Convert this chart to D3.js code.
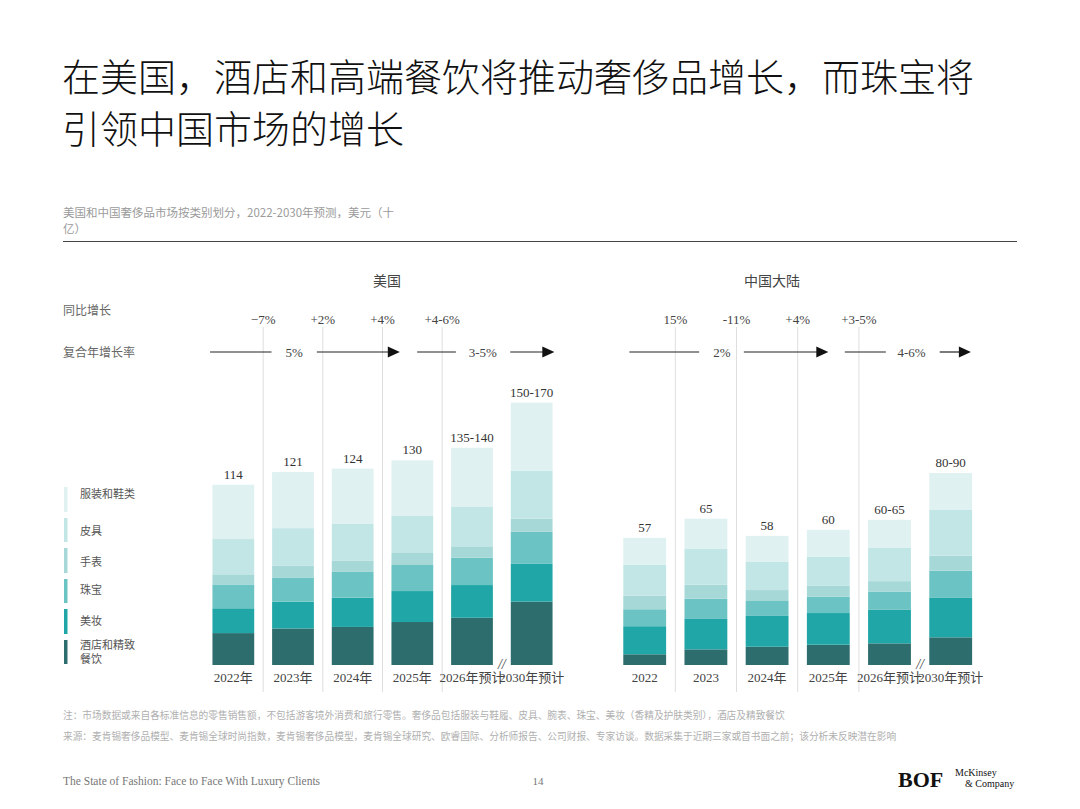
<!DOCTYPE html>
<html>
<head>
<meta charset="utf-8">
<script src="https://cdn.jsdelivr.net/npm/d3@7"></script>
<style>
  body { margin: 0; background: #fff; }
  svg text { font-family: "Noto Sans CJK SC", "Noto Sans", sans-serif; }
  .num { font-family: "Liberation Serif", "DejaVu Serif", serif; }
</style>
</head>
<body>
<svg id="chart" width="1080" height="809"></svg>
<script>
// categories, top of stack first (legend order)
var categories = ['服装和鞋类', '皮具', '手表', '珠宝', '美妆', '酒店和精致餐饮'];
var keys = ['apparel', 'leather', 'watches', 'jewelry', 'beauty', 'hotel'];
var colors = ['#dff1f1', '#c2e5e5', '#a6d8d8', '#6cc3c3', '#20a6a6', '#2e6d6d'];

// USA, $ billions
var usYears   = ['2022年', '2023年', '2024年', '2025年', '2026年预计', '2030年预计'];
var usTotals  = ['114', '121', '124', '130', '135-140', '150-170'];
var usHotel   = [20.2, 23.1, 24.1, 27.2, 29.9, 40.1];
var usBeauty  = [15.7, 17.0, 18.5, 19.6, 20.7, 23.9];
var usJewelry = [15.1, 15.3, 16.3, 16.5, 17.3, 20.3];
var usWatches = [6.4, 7.6, 7.0, 7.6, 7.2, 8.4];
var usLeather = [22.3, 23.6, 23.4, 23.4, 24.9, 30.4];
var usApparel = [34.4, 35.5, 35.0, 35.2, 37.5, 43.0];
var usYoy  = ['−7%', '+2%', '+4%', '+4-6%'];
var usCagr = ['5%', '3-5%'];

// China mainland
var cnYears   = ['2022', '2023', '2024年', '2025年', '2026年预计', '2030年预计'];
var cnTotals  = ['57', '65', '58', '60', '60-65', '80-90'];
var cnHotel   = [4.8, 7.0, 8.2, 9.1, 9.7, 12.4];
var cnBeauty  = [12.6, 13.9, 13.8, 14.2, 15.2, 17.9];
var cnJewelry = [7.6, 8.8, 6.7, 7.3, 7.9, 12.0];
var cnWatches = [6.1, 6.3, 4.9, 4.9, 4.8, 6.7];
var cnLeather = [13.9, 16.0, 12.8, 13.1, 15.1, 20.5];
var cnApparel = [12.0, 13.6, 11.5, 12.0, 12.4, 16.6];
var cnYoy  = ['15%', '-11%', '+4%', '+3-5%'];
var cnCagr = ['2%', '4-6%'];

var svg = d3.select('#chart');
var baseY = 665;

function rows(years, series) {
  return years.map(function(y, i) {
    var r = {year: y};
    keys.forEach(function(k, j) { r[k] = series[j][i]; });
    return r;
  });
}

// title
svg.selectAll('.title').data(['在美国，酒店和高端餐饮将推动奢侈品增长，而珠宝将', '引领中国市场的增长'])
  .enter().append('text')
  .attr('x', 62).attr('y', function(d, i) { return 91 + i * 52; })
  .attr('font-size', 38).attr('font-weight', 300).attr('fill', '#111')
  .text(function(d) { return d; });

svg.selectAll('.sub').data(['美国和中国奢侈品市场按类别划分，2022-2030年预测，美元（十', '亿）'])
  .enter().append('text')
  .attr('x', 63).attr('y', function(d, i) { return 217 + i * 16; })
  .attr('font-size', 11.5).attr('fill', '#9a9a9a')
  .text(function(d) { return d; });

svg.append('line').attr('x1', 63).attr('x2', 1017).attr('y1', 241.5).attr('y2', 241.5)
  .attr('stroke', '#444').attr('stroke-width', 1);

svg.append('text').attr('x', 63).attr('y', 315).attr('font-size', 12).attr('fill', '#666').text('同比增长');
svg.append('text').attr('x', 63).attr('y', 357).attr('font-size', 12).attr('fill', '#666').text('复合年增长率');

// legend
var legendY = [[487, 512], [518, 542], [548, 573], [579, 603], [609, 634], [640, 664]];
var leg = svg.append('g');
leg.selectAll('rect').data(categories).enter().append('rect')
  .attr('x', 64).attr('width', 3.5)
  .attr('y', function(d, i) { return legendY[i][0]; })
  .attr('height', function(d, i) { return legendY[i][1] - legendY[i][0]; })
  .attr('fill', function(d, i) { return colors[i]; });
var legLabels = [['服装和鞋类'], ['皮具'], ['手表'], ['珠宝'], ['美妆'], ['酒店和精致', '餐饮']];
var legTextY = [498, 535, 566, 594, 625, 649];
leg.selectAll('text.l').data(legLabels).enter().append('text')
  .attr('x', 80).attr('y', function(d, i) { return legTextY[i]; })
  .attr('font-size', 11).attr('fill', '#555')
  .each(function(d) {
    var t = d3.select(this);
    d.forEach(function(s, j) {
      t.append('tspan').attr('x', 80).attr('dy', j ? 14 : 0).text(s);
    });
  });

function drawPanel(cfg) {
  var data = rows(cfg.years, cfg.series);
  var x = d3.scaleBand().domain(cfg.years).range(cfg.range).paddingInner(0.3).paddingOuter(0.15);
  var y = d3.scaleLinear().domain([0, 100]).range([baseY, baseY - cfg.pxPer100]);
  var step = x.step();
  var u = function(v) { return cfg.range[0] + v * step; };
  var g = svg.append('g');

  // separators between years
  var seps = cfg.years.slice(1, 5).map(function(yr, i) {
    return (x(cfg.years[i]) + x(yr)) / 2 + x.bandwidth() / 2;
  });
  g.selectAll('line.sep').data(seps).enter().append('line')
    .attr('x1', function(d) { return d; }).attr('x2', function(d) { return d; })
    .attr('y1', 327).attr('y2', 692)
    .attr('stroke', '#dedede').attr('stroke-width', 1);

  g.selectAll('text.yoy').data(cfg.yoy).enter().append('text')
    .attr('class', 'num')
    .attr('x', function(d, i) { return seps[i]; }).attr('y', 324)
    .attr('text-anchor', 'middle').attr('font-size', 13).attr('fill', '#444')
    .text(function(d) { return d; });

  // CAGR arrows
  var a = cfg.arrows;
  var segs = [[a[0], a[1], false], [a[3], a[4], true], [a[5], a[6], false], [a[8], a[9], true]];
  g.selectAll('line.cagr').data(segs).enter().append('line')
    .attr('x1', function(d) { return u(d[0]); })
    .attr('x2', function(d) { return u(d[1]) - (d[2] ? 10 : 0); })
    .attr('y1', 352).attr('y2', 352)
    .attr('stroke', '#222').attr('stroke-width', 1.2);
  g.selectAll('path.head').data(segs.filter(function(d) { return d[2]; })).enter().append('path')
    .attr('d', function(d) {
      var e = u(d[1]);
      return 'M' + e + ',352 L' + (e - 12) + ',346.5 L' + (e - 12) + ',357.5 Z';
    })
    .attr('fill', '#111');
  g.selectAll('text.cagr').data(cfg.cagr).enter().append('text')
    .attr('class', 'num')
    .attr('x', function(d, i) { return u(i ? a[7] : a[2]); }).attr('y', 357)
    .attr('text-anchor', 'middle').attr('font-size', 13).attr('fill', '#444')
    .text(function(d) { return d; });

  g.append('text').attr('x', cfg.headerX).attr('y', 286)
    .attr('text-anchor', 'middle').attr('font-size', 14).attr('fill', '#444')
    .text(cfg.name);

  // stacked bars, hotel at the bottom
  var stack = d3.stack().keys(keys.slice().reverse());
  var layers = stack(data);
  g.selectAll('g.layer').data(layers).enter().append('g')
    .attr('fill', function(d) { return colors[keys.indexOf(d.key)]; })
    .selectAll('rect').data(function(d) { return d; }).enter().append('rect')
    .attr('x', function(d) { return x(d.data.year); })
    .attr('width', x.bandwidth())
    .attr('y', function(d) { return y(d[1]); })
    .attr('height', function(d) { return y(d[0]) - y(d[1]); });

  var top = layers[layers.length - 1];
  g.selectAll('text.total').data(cfg.totals).enter().append('text')
    .attr('class', 'num')
    .attr('x', function(d, i) { return x(cfg.years[i]) + x.bandwidth() / 2; })
    .attr('y', function(d, i) { return y(top[i][1]) - 6; })
    .attr('text-anchor', 'middle').attr('font-size', 13).attr('fill', '#333')
    .text(function(d) { return d; });

  g.selectAll('text.year').data(cfg.years).enter().append('text')
    .attr('x', function(d) { return x(d) + x.bandwidth() / 2; }).attr('y', 682)
    .attr('text-anchor', 'middle').attr('font-size', 13).attr('fill', '#444')
    .each(function(d) {
      var m = d.match(/^(\d+)(.*)$/);
      d3.select(this).append('tspan').attr('class', 'num').text(m[1]);
      if (m[2]) d3.select(this).append('tspan').text(m[2]);
    });

  // axis break between 2026 and 2030
  var bx = (x(cfg.years[4]) + x(cfg.years[5]) + x.bandwidth()) / 2;
  g.append('text').attr('class', 'num').attr('x', bx).attr('y', 669)
    .attr('text-anchor', 'middle').attr('font-size', 14).attr('font-style', 'italic').attr('fill', '#444')
    .text('//');
}

drawPanel({
  name: '美国', headerX: 387, range: [203.5, 561.5], pxPer100: 158,
  years: usYears, totals: usTotals, yoy: usYoy, cagr: usCagr,
  series: [usApparel, usLeather, usWatches, usJewelry, usBeauty, usHotel],
  arrows: [0.11, 1.14, 1.52, 1.90, 3.29, 3.58, 4.23, 4.68, 5.14, 5.88]
});
drawPanel({
  name: '中国大陆', headerX: 772, range: [614.1, 981.3], pxPer100: 223,
  years: cnYears, totals: cnTotals, yoy: cnYoy, cagr: cnCagr,
  series: [cnApparel, cnLeather, cnWatches, cnJewelry, cnBeauty, cnHotel],
  arrows: [0.25, 1.39, 1.76, 2.12, 3.50, 3.77, 4.44, 4.86, 5.32, 5.83]
});

// notes
svg.selectAll('.note').data([
  '注：市场数据或来自各标准信息的零售销售额，不包括游客境外消费和旅行零售。奢侈品包括服装与鞋履、皮具、腕表、珠宝、美妆（香精及护肤类别），酒店及精致餐饮',
  '来源：麦肯锡奢侈品模型、麦肯锡全球时尚指数，麦肯锡奢侈品模型，麦肯锡全球研究、欧睿国际、分析师报告、公司财报、专家访谈。数据采集于近期三家或首书面之前；该分析未反映潜在影响'
]).enter().append('text')
  .attr('x', 63).attr('y', function(d, i) { return 719 + i * 21; })
  .attr('font-size', 9.7).attr('fill', '#b0b0b0')
  .text(function(d) { return d; });

// footer
svg.append('text').attr('class', 'num').attr('x', 63).attr('y', 785)
  .attr('font-size', 11.5).attr('fill', '#777')
  .text('The State of Fashion: Face to Face With Luxury Clients');
svg.append('text').attr('class', 'num').attr('x', 538).attr('y', 785)
  .attr('text-anchor', 'middle').attr('font-size', 11).attr('fill', '#777').text('14');
svg.append('text').attr('class', 'num').attr('x', 898).attr('y', 787)
  .attr('font-size', 22).attr('font-weight', 'bold').attr('fill', '#111').text('BOF');
svg.append('text').attr('class', 'num').attr('x', 955).attr('y', 776)
  .attr('font-size', 10).attr('fill', '#111').text('McKinsey');
svg.append('text').attr('class', 'num').attr('x', 965).attr('y', 787)
  .attr('font-size', 10).attr('fill', '#111').text('& Company');
</script>
</body>
</html>
